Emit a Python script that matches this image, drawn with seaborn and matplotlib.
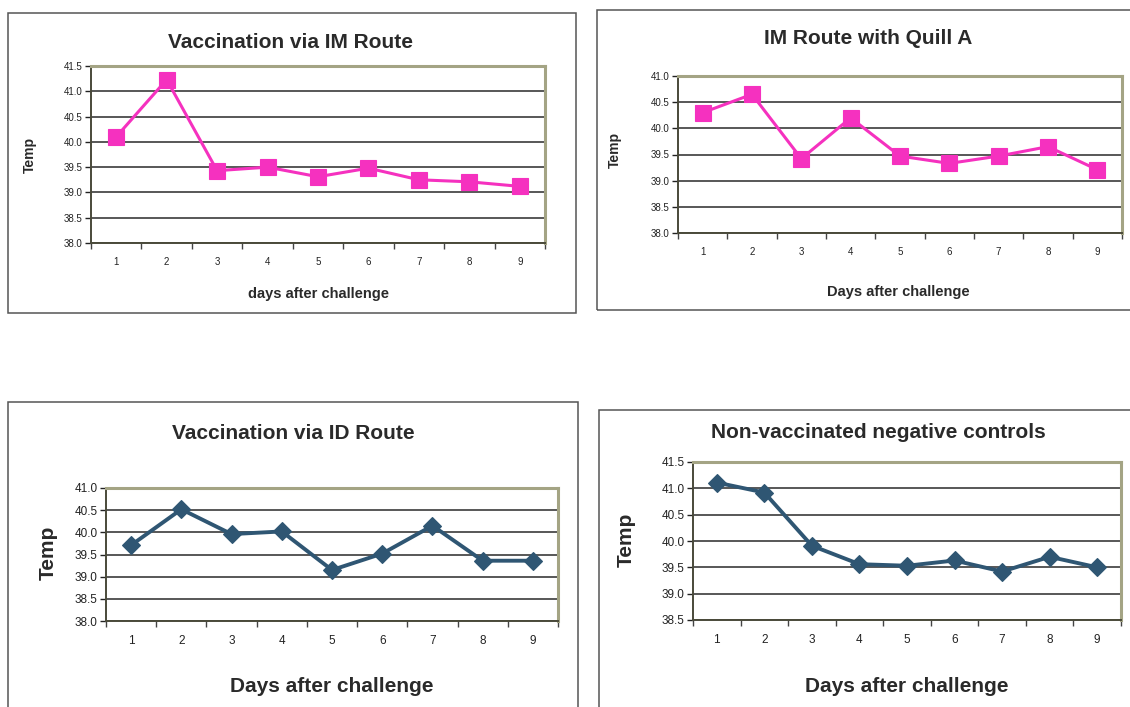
import numpy as np
import seaborn as sns
import matplotlib.pyplot as plt
from matplotlib.patches import Rectangle
from matplotlib.ticker import FixedLocator, FormatStrFormatter

# temperatures
days = [1, 2, 3, 4, 5, 6, 7, 8, 9]
im_route = [40.10, 41.23, 39.43, 39.50, 39.31, 39.48, 39.25, 39.21, 39.12]
im_quill_a = [40.30, 40.65, 39.42, 40.20, 39.47, 39.33, 39.47, 39.65, 39.21]
id_route = [39.71, 40.52, 39.96, 40.02, 39.15, 39.52, 40.15, 39.36, 39.36]
neg_controls = [41.11, 40.92, 39.91, 39.56, 39.53, 39.63, 39.42, 39.70, 39.50]

titles = ["Vaccination via IM Route", "IM Route with Quill A",
          "Vaccination via ID Route", "Non-vaccinated negative controls"]
xlabels = ["days after challenge", "Days after challenge",
           "Days after challenge", "Days after challenge"]

sns.set_theme(style='white')
plt.rcParams['font.family'] = ['Liberation Sans', 'DejaVu Sans']

W, H = 1130, 707
fig = plt.figure(figsize=(W / 100, H / 100), dpi=100)
fig.patch.set_facecolor('white')


def fx(x):
    return x / W


def fy(y):
    return 1 - y / H


PINK = '#f531bf'
BLUE = '#2f5673'

# layout in pixels: frame box, plot box, text anchors
panels = [
    dict(vals=im_route, color=PINK, marker='s', ms=11.5, lw=2.2, ylim=(38.0, 41.5),
         frame=(8, 13, 576, 313), plot=(91, 66, 545, 243),
         title=(291, 42), xl=(318, 294), yl=(30, 155), tfs=15, lfs=10.5, yfs=10, tickfs=7),
    dict(vals=im_quill_a, color=PINK, marker='s', ms=11.5, lw=2.2, ylim=(38.0, 41.0),
         frame=(597, 10, 1140, 310), plot=(678, 76, 1122, 233),
         title=(868, 39), xl=(898, 292), yl=(615, 150), tfs=15, lfs=10.5, yfs=10, tickfs=7),
    dict(vals=id_route, color=BLUE, marker='D', ms=9, lw=2.8, ylim=(38.0, 41.0),
         frame=(8, 402, 578, 720), plot=(106, 488, 558, 621),
         title=(293, 433), xl=(332, 687), yl=(48, 553), tfs=15, lfs=15, yfs=15, tickfs=8.5),
    dict(vals=neg_controls, color=BLUE, marker='D', ms=9, lw=2.8, ylim=(38.5, 41.5),
         frame=(599, 410, 1140, 720), plot=(693, 462, 1121, 620),
         title=(878, 432), xl=(907, 687), yl=(626, 540), tfs=15, lfs=15, yfs=15, tickfs=8.5),
]

for i, p in enumerate(panels):
    x0, y0, x1, y1 = p['frame']
    fig.patches.append(Rectangle((fx(x0), fy(y1)), (x1 - x0) / W, (y1 - y0) / H,
                                 transform=fig.transFigure, fill=False,
                                 edgecolor='#555555', lw=1.1))
    l, t, r, b = p['plot']
    ax = fig.add_axes([fx(l), fy(b), (r - l) / W, (b - t) / H])
    ax.set_facecolor('white')
    sns.lineplot(x=days, y=p['vals'], ax=ax, color=p['color'], marker=p['marker'],
                 markersize=p['ms'], linewidth=p['lw'], markeredgecolor=p['color'],
                 markeredgewidth=0.8, zorder=3)
    ax.set_xlim(0.5, 9.5)
    lo, hi = p['ylim']
    ax.set_ylim(lo, hi)
    ax.yaxis.set_major_locator(FixedLocator(np.arange(lo, hi + 0.01, 0.5)))
    ax.yaxis.set_major_formatter(FormatStrFormatter('%.1f'))
    ax.yaxis.grid(True, color='#2a2a2a', lw=1.1)
    ax.xaxis.grid(False)
    ax.set_xticks(days)
    ax.set_xticklabels([str(d) for d in days])
    ax.xaxis.set_minor_locator(FixedLocator(np.arange(0.5, 10, 1)))
    ax.tick_params(axis='x', which='major', length=0, pad=10, labelsize=p['tickfs'], colors='#222222')
    ax.tick_params(axis='x', which='minor', length=4, width=1, direction='out', color='#444444', bottom=True)
    ax.tick_params(axis='y', length=4, width=1, direction='out', left=True, pad=2,
                   labelsize=p['tickfs'], colors='#222222')
    for s in ['top', 'right']:
        ax.spines[s].set_color('#a4a484')
        ax.spines[s].set_linewidth(2.2)
    for s in ['left', 'bottom']:
        ax.spines[s].set_color('#4a4a3a')
        ax.spines[s].set_linewidth(1.4)
    ax.set_xlabel('')
    ax.set_ylabel('')

    fig.text(fx(p['title'][0]), fy(p['title'][1]), titles[i], ha='center', va='center',
             fontsize=p['tfs'], fontweight='bold', color='#2a2a2a')
    fig.text(fx(p['xl'][0]), fy(p['xl'][1]), xlabels[i], ha='center', va='center',
             fontsize=p['lfs'], fontweight='bold', color='#2a2a2a')
    fig.text(fx(p['yl'][0]), fy(p['yl'][1]), 'Temp', ha='center', va='center', rotation=90,
             fontsize=p['yfs'], fontweight='bold', color='#2a2a2a')

plt.savefig('out.png', dpi=100, facecolor='white')
